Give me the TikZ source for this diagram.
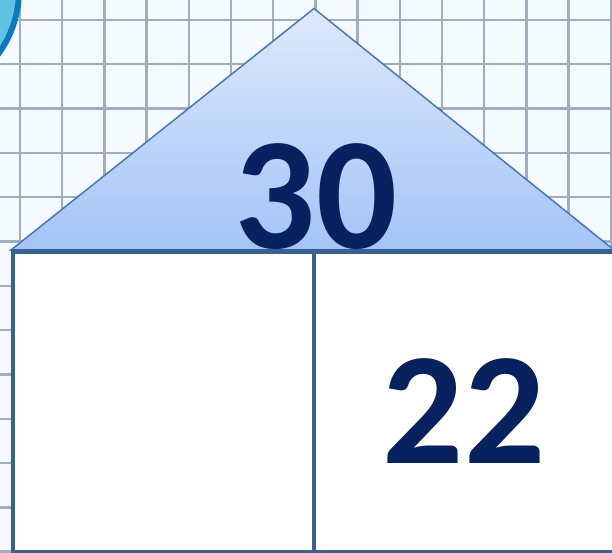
\documentclass[tikz,border=0pt]{standalone}
\usepackage{fontspec}
\setmainfont{Carlito}
\definecolor{gridbg}{RGB}{244,250,255}
\definecolor{gridline}{RGB}{160,172,192}
\definecolor{ringblue}{RGB}{14,120,190}
\definecolor{ringcyan}{RGB}{95,195,225}
\definecolor{rooftop}{RGB}{222,233,252}
\definecolor{roofbot}{RGB}{164,196,246}
\definecolor{roofline}{RGB}{70,120,185}
\definecolor{boxline}{RGB}{58,95,145}
\definecolor{numcol}{RGB}{8,34,96}
\tikzset{
  gridstroke/.style={draw=gridline, line width=2.4pt},
  housebox/.style={draw=boxline, line width=4pt, fill=white, anchor=north west, inner sep=0pt, outer sep=0pt},
  bignum/.style={text=numcol, font=\fontsize{160}{160}\selectfont\bfseries, inner sep=0pt, anchor=base}
}
\begin{document}
\begin{tikzpicture}[x=1pt,y=-1pt]
\useasboundingbox (0,0) rectangle (612,553);
\clip (0,0) rectangle (612,553);
\fill[gridbg] (0,0) rectangle (612,553);
\foreach \i in {0,...,14} \draw[gridstroke] ({20+42.2*\i},0) -- ({20+42.2*\i},553);
\foreach \j in {0,...,12} \draw[gridstroke] (0,{20+44.3*\j}) -- (612,{20+44.3*\j});
\fill[ringblue] (-90,-10) circle (112);
\fill[ringcyan] (-90,-10) circle (106);
% boxes
\node[housebox, minimum width=301.5pt, minimum height=300pt] (leftbox) at (12.5,251.5) {};
\node[housebox, minimum width=310pt, minimum height=300pt] (rightbox) at (314,251.5) {};
% roof
\coordinate (apex) at (314,8.5);
\coordinate (eaveL) at (11,250);
\coordinate (eaveR) at (614,250);
\shadedraw[top color=rooftop, bottom color=roofbot, draw=roofline, line width=1.5pt, line join=miter] (eaveL) -- (apex) -- (eaveR) -- cycle;
\draw[boxline, line width=2.5pt] (eaveL) -- (eaveR);
\node[bignum] (total) at (316,248) {30};
\node[bignum] (part) at (464,463) {22};
\end{tikzpicture}
\end{document}
